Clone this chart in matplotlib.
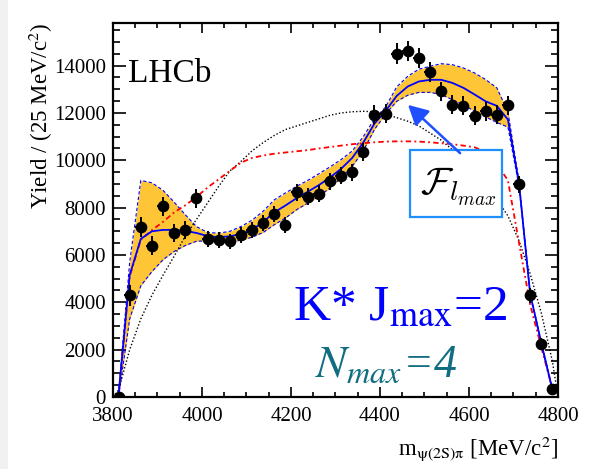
import numpy as np
import matplotlib
matplotlib.use('Agg')
import matplotlib.pyplot as plt
from matplotlib.patches import Rectangle
from matplotlib.ticker import MultipleLocator

plt.rcParams['font.family'] = ['Liberation Serif', 'DejaVu Serif']
plt.rcParams['mathtext.fontset'] = 'stix'

# 25 MeV bins from 3800 to 4800
mass = [3812.5, 3837.5, 3862.5, 3887.5, 3912.5, 3937.5, 3962.5, 3987.5,
        4012.5, 4037.5, 4062.5, 4087.5, 4112.5, 4137.5, 4162.5, 4187.5,
        4212.5, 4237.5, 4262.5, 4287.5, 4312.5, 4337.5, 4362.5, 4387.5,
        4412.5, 4437.5, 4462.5, 4487.5, 4512.5, 4537.5, 4562.5, 4587.5,
        4612.5, 4637.5, 4662.5, 4687.5, 4712.5, 4737.5, 4762.5, 4787.5]

yield_data = [0, 4300, 7180, 6390, 8050, 6920, 7060, 8390, 6670, 6640,
              6570, 6850, 7040, 7350, 7740, 7260, 8640, 8470, 8590, 9110,
              9350, 9490, 10330, 11920, 11970, 14510, 14610, 14330, 13720, 12910,
              12350, 12310, 11890, 12070, 11930, 12320, 8990, 4300, 2240, 325]

yield_err = [60, 450, 420, 400, 420, 380, 380, 400, 330, 330,
             330, 330, 340, 340, 350, 340, 360, 350, 350, 360,
             360, 360, 380, 400, 400, 430, 430, 420, 420, 400,
             400, 400, 400, 400, 400, 400, 360, 320, 250, 100]

# total fit and its uncertainty band
fit_total = [100, 5150, 6680, 7000, 7060, 7060, 7020, 6930, 6800, 6750,
             6790, 6880, 7060, 7400, 7800, 8090, 8400, 8670, 8950, 9270,
             9640, 10100, 10750, 11550, 12080, 12720, 13120, 13330, 13400, 13400,
             13270, 13060, 12780, 12490, 12300, 11720, 9000, 4350, 2280, 300]

band_hi = [150, 5700, 9150, 9050, 8730, 8230, 7700, 7200, 6950, 6920,
           7000, 7200, 7470, 7850, 8330, 8620, 8900, 9150, 9430, 9720,
           10030, 10390, 11000, 11750, 12250, 13100, 13550, 13850, 13970, 14080,
           14040, 13900, 13690, 13410, 13060, 12050, 9100, 4400, 2320, 330]

band_lo = [0, 3300, 4700, 5300, 5800, 6150, 6400, 6580, 6600, 6520,
           6550, 6620, 6750, 6950, 7280, 7560, 7910, 8190, 8470, 8830,
           9250, 9740, 10400, 11300, 11950, 12490, 12750, 12870, 12870, 12780,
           12560, 12350, 12070, 11830, 11600, 11400, 8900, 4300, 2240, 270]

# K* only component
kstar_only = [0, 5100, 6650, 7050, 7400, 7800, 8100, 8450, 8850, 9200,
              9550, 9900, 10100, 10200, 10280, 10330, 10380, 10430, 10500, 10560,
              10620, 10680, 10720, 10760, 10790, 10800, 10800, 10790, 10760, 10720,
              10680, 10620, 10550, 10350, 9850, 9150, 6500, 3900, 2100, 350]

# phase space, with the kinematic end points
ps_mass = [3800] + mass + [4800]
phase_space = [0, 300, 2000, 3300, 4300, 5150, 5950, 6800, 7500, 8200, 8900,
               9550, 9950, 10400, 10750, 11050, 11300, 11450, 11600, 11750, 11900,
               12000, 12050, 12070, 12050, 11950, 11800, 11650, 11450, 11150, 10850,
               10450, 10000, 9500, 8950, 8350, 7650, 6600, 5200, 3550, 1500, 0]

fig = plt.figure(figsize=(6.09, 4.69), dpi=100)
fig.patches.append(Rectangle((0, 0), 8 / 609, 1, transform=fig.transFigure,
                             facecolor='#f1f1f1', edgecolor='none', zorder=0))
ax = fig.add_axes([113 / 609, 1 - 397 / 469, 445 / 609, 374 / 469])

ax.fill_between(mass, band_lo, band_hi, color='#fec636', lw=0, zorder=1)
ax.plot(mass, band_hi, color='#0000ff', lw=0.8, ls=(0, (3, 2)), zorder=2)
ax.plot(mass, band_lo, color='#0000ff', lw=0.8, ls=(0, (3, 2)), zorder=2)
ax.plot(ps_mass, phase_space, color='black', lw=1.0, ls=(0, (1, 1.5)), zorder=2)
ax.plot(mass, kstar_only, color='#ff0000', lw=1.3, ls=(0, (3, 1.8, 1, 1.8)), zorder=2)
ax.plot(mass, fit_total, color='#0000ff', lw=1.3, zorder=3)
ax.errorbar(mass, yield_data, yerr=yield_err, xerr=12.5, fmt='o', color='black',
            ms=7.4, elinewidth=1.4, capsize=0, zorder=4)

ax.set_xlim(3800, 4800)
ax.set_ylim(0, 15800)
ax.xaxis.set_major_locator(MultipleLocator(200))
ax.xaxis.set_minor_locator(MultipleLocator(50))
ax.yaxis.set_major_locator(MultipleLocator(2000))
ax.yaxis.set_minor_locator(MultipleLocator(500))
ax.tick_params(which='both', direction='in', top=True, right=True, width=1.2,
               labelsize=15)
ax.tick_params(axis='x', which='major', length=7.2, pad=7.5)
ax.tick_params(axis='x', which='minor', length=3.6)
ax.tick_params(axis='y', which='major', length=9.4, pad=5.0)
ax.tick_params(axis='y', which='minor', length=5)
for s in ax.spines.values():
    s.set_linewidth(1.6)

ax.set_xlabel(r'm$_{\mathrm{\psi(2S)\pi}}$ [MeV/c$^{2}$]', fontsize=16.5, loc='right')
ax.set_ylabel(r'Yield / (25 MeV/c$^{2}$)', fontsize=16.5, loc='top')
ax.xaxis.set_label_coords(1.0, -0.1)
ax.yaxis.set_label_coords(-0.13, 1.0)

ax.text(0.034, 0.842, 'LHCb', transform=ax.transAxes, fontsize=24,
        va='baseline', ha='left')

ax.text(0.4045, 0.206, r'K* J$_{\rm max}$=2', transform=ax.transAxes,
        fontsize=37, color='#0000ff', va='baseline', ha='left')
ax.text(0.454, 0.0535, r'$N_{max}$=4', transform=ax.transAxes, fontsize=33,
        color='#106e80', style='italic', va='baseline', ha='left')

# label box for the amplitude band
bx0, bx1 = (410 - 113) / 445, (502 - 113) / 445
by0, by1 = (397 - 217) / 374, (397 - 150) / 374
ax.add_patch(Rectangle((bx0, by0), bx1 - bx0, by1 - by0, transform=ax.transAxes,
                       facecolor='white', edgecolor='#1e90ff', lw=1.6, zorder=5))
ax.text((bx0 + bx1) / 2 + 0.005, (by0 + by1) / 2 - 0.01, r'$\mathcal{F}_{l_{max}}$',
        transform=ax.transAxes, fontsize=28, math_fontfamily='cm',
        ha='center', va='center', zorder=6)
ax.annotate('', xy=(0.663, 0.781), xytext=(0.780, 0.652),
            xycoords='axes fraction', textcoords='axes fraction',
            arrowprops=dict(arrowstyle='-|>,head_length=0.6,head_width=0.32',
                            mutation_scale=20, lw=1.8, color='#1f4fff',
                            shrinkA=0, shrinkB=0), zorder=6)

fig.savefig('out.png', dpi=100)
